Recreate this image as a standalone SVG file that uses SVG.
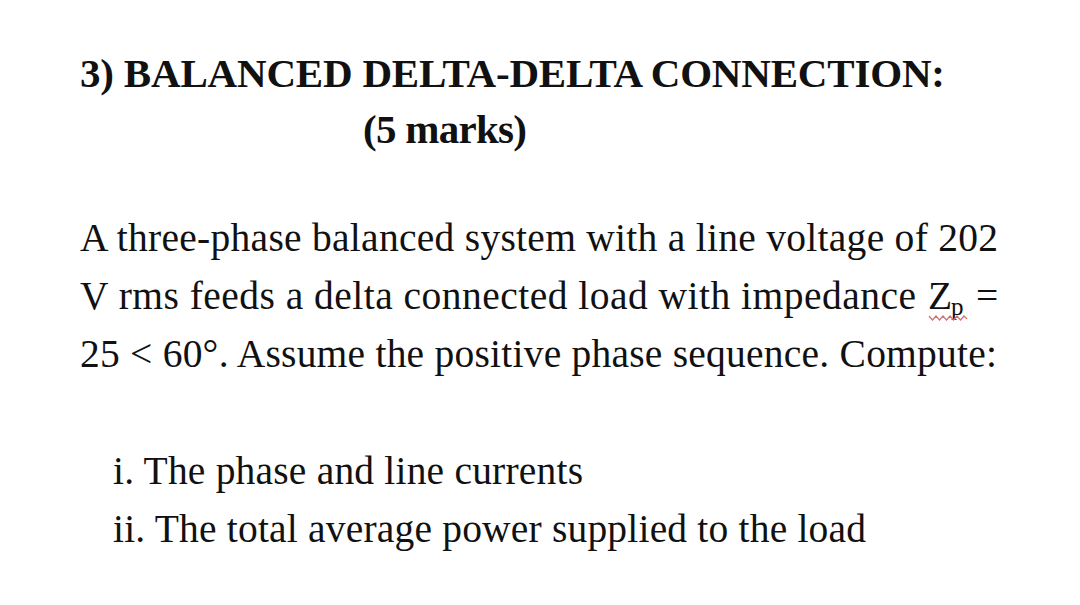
<svg xmlns="http://www.w3.org/2000/svg" width="1080" height="605" viewBox="0 0 1080 605">
<style>
.t{font-family:"Liberation Serif","Times New Roman",serif;fill:#111;}
.h{font-size:41px;font-weight:bold;}
.b{font-size:39.5px;}
</style>
<rect width="1080" height="605" fill="#ffffff"/>
<g id="title">
<text class="t h" x="80" y="87" textLength="865" lengthAdjust="spacing">3) BALANCED DELTA-DELTA CONNECTION:</text>
<text class="t h" x="363" y="143" textLength="164" lengthAdjust="spacing">(5 marks)</text>
</g>
<g id="paragraph">
<text class="t b" x="80" y="251" textLength="918" lengthAdjust="spacing">A three-phase balanced system with a line voltage of 202</text>
<text class="t b" x="80" y="309" textLength="836" lengthAdjust="spacing">V rms feeds a delta connected load with impedance</text>
<text class="t b" x="928" y="309">Z</text>
<text class="t" x="951" y="315" font-size="25">p</text>
<text class="t b" x="976" y="309">=</text>
<polyline points="929,316 932.5,320 936,316 939.5,320 943,316 946.5,320 950,316 953.5,320 957,316 960.5,320 964,316 967,319" fill="none" stroke="#d07070" stroke-width="1.2"/>
<text class="t b" x="80" y="367" textLength="917" lengthAdjust="spacing">25 &lt; 60°. Assume the positive phase sequence. Compute:</text>
</g>
<g id="items">
<text class="t b" x="113" y="484" textLength="470" lengthAdjust="spacing">i. The phase and line currents</text>
<text class="t b" x="113" y="542" textLength="753" lengthAdjust="spacing">ii. The total average power supplied to the load</text>
</g>
</svg>
